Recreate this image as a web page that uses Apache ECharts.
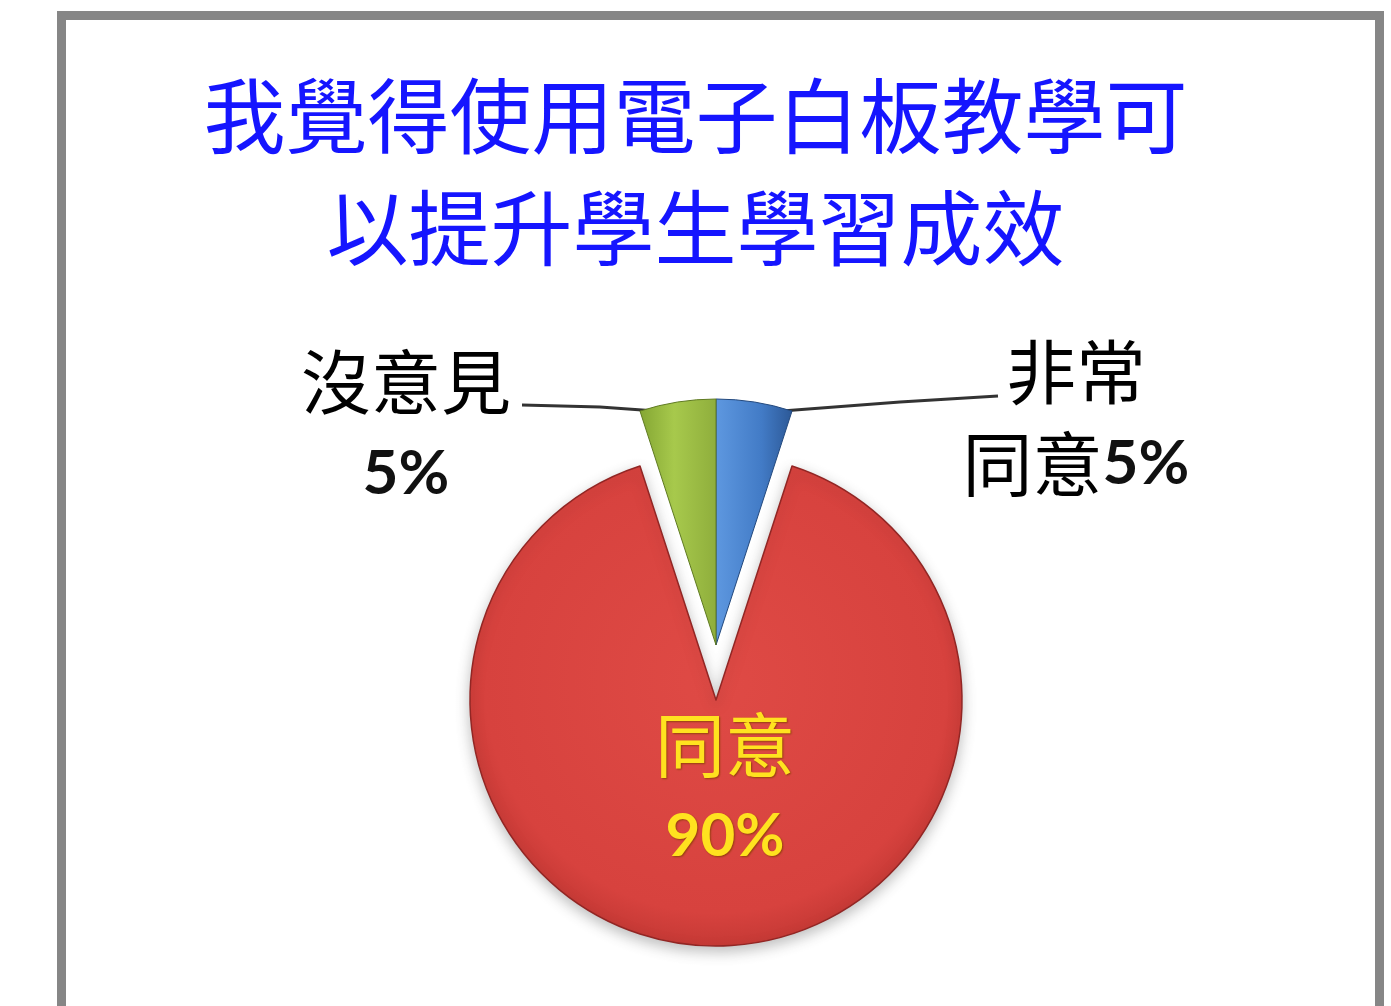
<!DOCTYPE html>
<html><head><meta charset="utf-8">
<script src="https://cdn.jsdelivr.net/npm/echarts@6/dist/echarts.min.js"></script>
<style>html,body{margin:0;padding:0;background:#fff}#c{width:1391px;height:1006px}</style>
</head><body><div id="c"></div>
<script>
const titleText = '我覺得使用電子白板教學可\n以提升學生學習成效';
const categories = ['非常同意', '同意', '沒意見'];
const values = [5, 90, 5];
const labelLines = [['非常', '同意5%'], ['同意', '90%'], ['沒意見', '5%']];

const chart = echarts.init(document.getElementById('c'), null, {renderer: 'canvas'});
const cjk = '"Noto Sans CJK TC","Noto Sans CJK SC",sans-serif';
const latin = 'Lato, "Open Sans", sans-serif';

const styles = [
  {color: {type: 'linear', x: 0, y: 0, x2: 1, y2: 0, colorStops: [
    {offset: 0, color: '#5e98e0'}, {offset: 0.6, color: '#427bc6'}, {offset: 1, color: '#2c5896'}]},
   borderColor: '#23497e', borderWidth: 1},
  {color: {type: 'radial', x: 0.5, y: 0.45, r: 0.6, colorStops: [
    {offset: 0, color: '#df4a45'}, {offset: 0.8, color: '#d7423e'}, {offset: 1, color: '#b9332f'}]},
   borderColor: '#922624', borderWidth: 1.5,
   shadowBlur: 14, shadowColor: 'rgba(0,0,0,0.25)', shadowOffsetY: 5},
  {color: {type: 'linear', x: 0, y: 0, x2: 1, y2: 0, colorStops: [
    {offset: 0, color: '#84a633'}, {offset: 0.45, color: '#a7c94c'}, {offset: 1, color: '#8fae3c'}]},
   borderColor: '#5f7a22', borderWidth: 1}
];

const labelCfg = [
  {formatter: '{a|' + labelLines[0][0] + '}\n{a|同意}{n|5%}'},
  {position: 'inside',
   formatter: '{y|' + labelLines[1][0] + '}\n{yn|' + labelLines[1][1] + '}'},
  {formatter: '{a|' + labelLines[2][0] + '}\n{n|' + labelLines[2][1] + '}'}
];

const data = categories.map((name, i) => ({
  name: name, value: values[i],
  selected: i === 1,
  itemStyle: styles[i],
  label: labelCfg[i],
  labelLine: {show: i !== 1}
}));

const labelPos = [
  {x: 1076, y: 418, pts: [[782, 411], [900, 402], [998, 396]]},
  null,
  {x: 406, y: 428, pts: [[656, 411], [600, 407], [522, 405]]}
];

const yShadow = {textShadowColor: 'rgba(130,60,0,0.8)', textShadowBlur: 2, textShadowOffsetX: 1, textShadowOffsetY: 1};

chart.setOption({
  backgroundColor: '#ffffff',
  animation: false,
  title: {
    text: titleText, left: 'center', top: 55,
    textStyle: {fontFamily: cjk, fontSize: 82, fontWeight: 'normal', color: '#1515ff', lineHeight: 112}
  },
  graphic: [{
    type: 'rect', z: -1, silent: true,
    shape: {x: 61.5, y: 15.5, width: 1318, height: 1100},
    style: {fill: 'none', stroke: '#868686', lineWidth: 9}
  }],
  series: [{
    type: 'pie',
    center: [716, 645],
    radius: [0, 246],
    startAngle: 90,
    clockwise: true,
    selectedMode: 'single',
    selectedOffset: 55,
    data: data,
    label: {
      show: true,
      lineHeight: 92,
      rich: {
        a: {fontFamily: cjk, fontSize: 70, color: '#000', lineHeight: 92},
        n: {fontFamily: latin, fontSize: 62, fontWeight: 'bold', color: '#111', lineHeight: 92},
        y: Object.assign({fontFamily: cjk, fontSize: 70, color: '#ffe21f', lineHeight: 92}, yShadow),
        yn: Object.assign({fontFamily: latin, fontSize: 60, fontWeight: 'bold', color: '#ffe21f', lineHeight: 92}, yShadow)
      }
    },
    labelLine: {show: true, lineStyle: {color: '#333', width: 3}},
    emphasis: {disabled: true},
    labelLayout: function (p) {
      const lp = labelPos[p.dataIndex];
      if (!lp) return {dx: 9, dy: -35};
      return {x: lp.x, y: lp.y, align: 'center', verticalAlign: 'middle', labelLinePoints: lp.pts};
    }
  }]
});
</script>
</body></html>
